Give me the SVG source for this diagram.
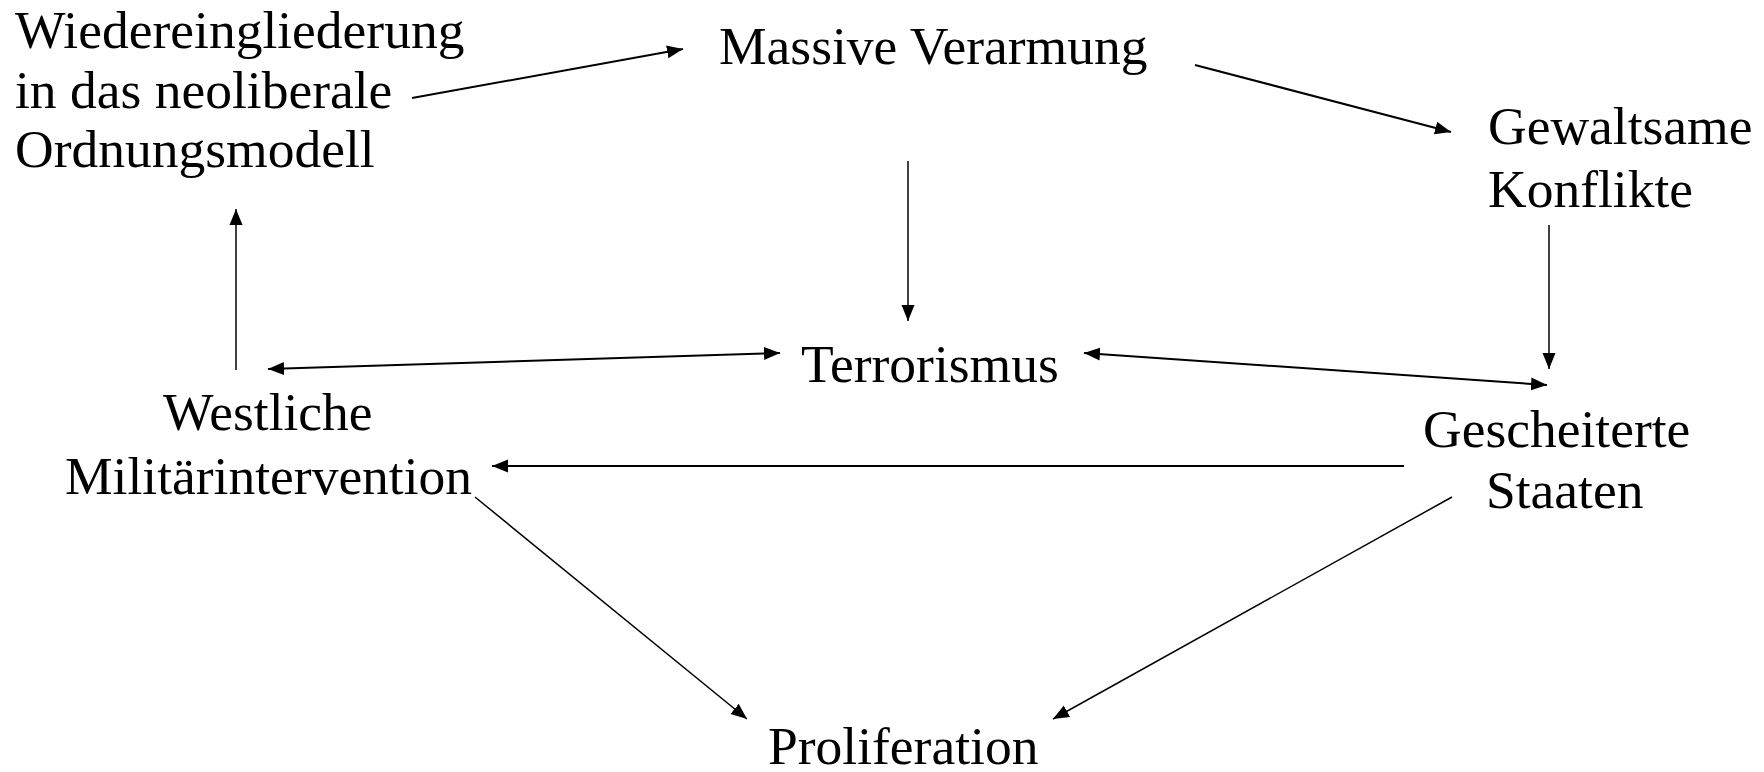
<svg xmlns="http://www.w3.org/2000/svg" width="1764" height="772" viewBox="0 0 1764 772">
<defs>
<style>
text{font-family:"Liberation Serif","Times New Roman",serif;font-size:53.5px;fill:#000}
.c line{stroke:#000;stroke-width:2;fill:none}
</style>
<marker id="ah" markerUnits="userSpaceOnUse" markerWidth="17" markerHeight="14" refX="16" refY="6.5" orient="auto-start-reverse" viewBox="0 0 17 13">
<path d="M0,0 L16,6.5 L0,13 Z" fill="#000"/>
</marker>
</defs>
<rect width="1764" height="772" fill="#fff"/>
<g id="n-wiedereingliederung"><text x="15" y="48">Wiedereingliederung</text><text x="15" y="108">in das neoliberale</text><text x="15" y="167">Ordnungsmodell</text></g>
<g id="n-verarmung"><text x="719" y="64">Massive Verarmung</text></g>
<g id="n-gewaltsame"><text x="1488" y="144">Gewaltsame</text><text x="1488" y="207">Konflikte</text></g>
<g id="n-terrorismus"><text x="801" y="382">Terrorismus</text></g>
<g id="n-westliche"><text x="163" y="430">Westliche</text><text x="65" y="494">Militärintervention</text></g>
<g id="n-gescheiterte"><text x="1423" y="447">Gescheiterte</text><text x="1486" y="508">Staaten</text></g>
<g id="n-proliferation"><text x="768" y="764">Proliferation</text></g>
<g class="c" id="connectors">
<line x1="412" y1="98" x2="683" y2="49" marker-end="url(#ah)"/>
<line x1="1195" y1="65" x2="1451" y2="132" marker-end="url(#ah)"/>
<line x1="908" y1="161" x2="908" y2="321" marker-end="url(#ah)" style="stroke-width:1.5"/>
<line x1="1549" y1="225" x2="1549" y2="369" marker-end="url(#ah)" style="stroke-width:1.5"/>
<line x1="1084" y1="353" x2="1547" y2="385" marker-start="url(#ah)" marker-end="url(#ah)"/>
<line x1="268" y1="369" x2="780" y2="353" marker-start="url(#ah)" marker-end="url(#ah)"/>
<line x1="236" y1="370" x2="236" y2="209" marker-end="url(#ah)" style="stroke-width:1.5"/>
<line x1="1404" y1="466" x2="492" y2="466" marker-end="url(#ah)"/>
<line x1="475" y1="497" x2="747" y2="719" marker-end="url(#ah)" style="stroke-width:1.5"/>
<line x1="1452" y1="497" x2="1053" y2="719" marker-end="url(#ah)" style="stroke-width:1.5"/>
</g>
</svg>
